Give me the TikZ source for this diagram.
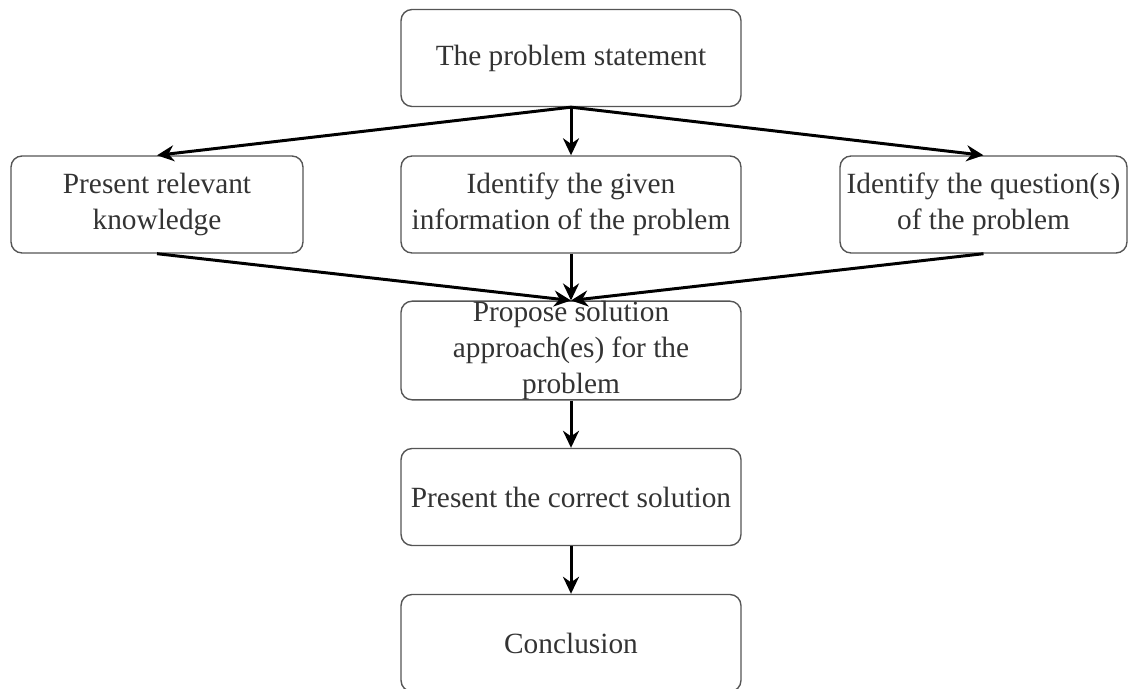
\documentclass[tikz,border=0pt]{standalone}
\usepackage{fontspec}
\setmainfont{Liberation Serif}
\usetikzlibrary{arrows.meta}

\definecolor{boxline}{HTML}{555555}
\definecolor{boxtext}{HTML}{333333}

\tikzset{
  stepbox/.style={draw=boxline, line width=0.8pt, rounded corners=0.22cm,
    minimum width=6.8cm, minimum height=1.94cm, align=center, inner sep=0pt,
    text=boxtext, font=\fontsize{16.7}{20.5}\selectfont},
  flow/.style={-{Stealth[length=0.34cm,width=0.32cm]}, line width=1.7pt, black}
}

\begin{document}
\begin{tikzpicture}[x=0.02cm, y=-0.02cm]
		%%%%% START %%%%%
		
		\useasboundingbox (0, 0) rectangle (1129, 689);
		\clip (0, 0) rectangle (1129, 689);
		
		\node[stepbox] (stmt) at (571, 58) {The problem statement};
		
		\node[stepbox, minimum width=5.84cm] (know) at (157, 204.5) {Present relevant\\knowledge};
		\node[stepbox] (given) at (571, 204.5) {Identify the given\\information of the problem};
		\node[stepbox, minimum width=5.74cm] (quest) at (983.5, 204.5) {Identify the question(s)\\of the problem};
		
		\node[stepbox] (prop) at (571, 350.5) {Propose solution\\approach(es) for the\\problem};
		\node[stepbox] (correct) at (571, 497) {Present the correct solution};
		\node[stepbox] (concl) at (571, 643) {Conclusion};
		
		\draw[flow] (stmt.south) -- (know.north);
		\draw[flow] (stmt.south) -- (given.north);
		\draw[flow] (stmt.south) -- (quest.north);
		
		\draw[flow] (know.south) -- (prop.north);
		\draw[flow] (given.south) -- (prop.north);
		\draw[flow] (quest.south) -- (prop.north);
		
		\draw[flow] (prop.south) -- (correct.north);
		\draw[flow] (correct.south) -- (concl.north);
		
		%%%%% END %%%%%
	\end{tikzpicture}
\end{document}
